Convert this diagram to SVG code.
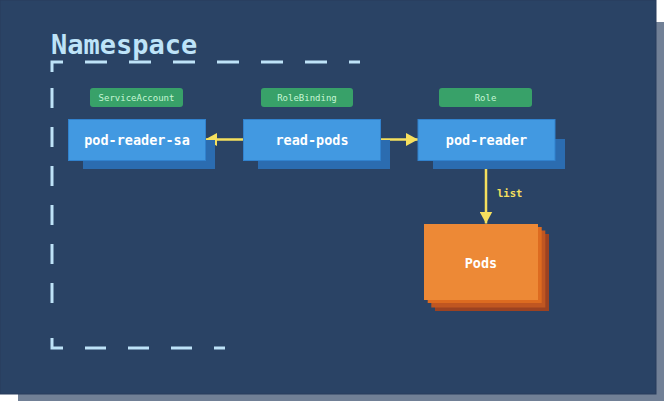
<svg xmlns="http://www.w3.org/2000/svg" width="664" height="401" viewBox="0 0 664 401">
  <defs>
    <style>
      .mono { font-family: "DejaVu Sans Mono", "Liberation Mono", monospace; }
      .title { font-size: 27px; font-weight: bold; fill: #bee3f8; }
      .dash { fill: none; stroke: #bee3f8; stroke-width: 3; stroke-linecap: butt; }
      .pill { fill: #38a169; }
      .pilltxt { font-size: 9px; fill: #c6f6d5; text-anchor: middle; }
      .box { fill: #4299e1; stroke: #3182ce; stroke-width: 1; }
      .shadow { fill: #2b6cb0; }
      .boxtxt { font-size: 13.5px; font-weight: bold; fill: #ffffff; text-anchor: middle; }
      .edge { fill: none; stroke: #f6e05e; stroke-width: 2.5; }
      .edgetxt { font-size: 10.5px; font-weight: bold; fill: #f6e05e; }
    </style>
    <marker id="arrow" viewBox="0 0 12 13" refX="12" refY="6.5" markerWidth="12" markerHeight="13" markerUnits="userSpaceOnUse" orient="auto">
      <path d="M0,0 L12,6.5 L0,13 Z" fill="#f6e05e"/>
    </marker>
  </defs>

  <!-- background -->
  <rect x="18" y="22" width="646" height="379" fill="#718096"/>
  <rect x="0" y="0" width="656" height="394" fill="#2a4365" stroke="#283d5c" stroke-width="1"/>

  <!-- namespace frame -->
  <g id="namespace">
    <text class="mono title" x="51" y="54">Namespace</text>
    <path class="dash" d="M52,72 V62 H63"/>
    <path class="dash" d="M85,62 H360" stroke-dasharray="22 22"/>
    <path class="dash" d="M52,88 V305" stroke-dasharray="20 19"/>
    <path class="dash" d="M52,338 V348 H63"/>
    <path class="dash" d="M85,348 H225" stroke-dasharray="21 22"/>
  </g>

  <!-- connectors -->
  <g id="connectors">
    <path class="edge" d="M243,139.5 H205" marker-end="url(#arrow)"/>
    <path class="edge" d="M380,139.5 H418" marker-end="url(#arrow)"/>
    <path class="edge" d="M486,160 V223.5" marker-end="url(#arrow)"/>
    <text class="mono edgetxt" x="497" y="197">list</text>
  </g>

  <!-- ServiceAccount -->
  <g id="pod-reader-sa">
    <rect class="pill" x="90" y="88" width="93" height="19" rx="3"/>
    <text class="mono pilltxt" x="136.5" y="101">ServiceAccount</text>
    <rect class="shadow" x="83" y="140" width="132" height="29"/>
    <rect class="box" x="68.5" y="119.5" width="137" height="41"/>
    <text class="mono boxtxt" x="137" y="144.5">pod-reader-sa</text>
  </g>

  <!-- RoleBinding -->
  <g id="read-pods">
    <rect class="pill" x="261" y="88" width="92" height="19" rx="3"/>
    <text class="mono pilltxt" x="307" y="101">RoleBinding</text>
    <rect class="shadow" x="258" y="140" width="132" height="29"/>
    <rect class="box" x="243.5" y="119.5" width="137" height="41"/>
    <text class="mono boxtxt" x="312" y="144.5">read-pods</text>
  </g>

  <!-- Role -->
  <g id="pod-reader">
    <rect class="pill" x="439" y="88" width="93" height="19" rx="3"/>
    <text class="mono pilltxt" x="485.5" y="101">Role</text>
    <rect class="shadow" x="433" y="139" width="132" height="30"/>
    <rect class="box" x="418" y="119.5" width="137" height="41"/>
    <text class="mono boxtxt" x="486.5" y="144.5">pod-reader</text>
  </g>

  <!-- Pods -->
  <g id="pods">
    <rect x="435" y="234" width="114" height="77" fill="#9c4221"/>
    <rect x="431.3" y="230.5" width="114" height="77" fill="#c05621"/>
    <rect x="427.7" y="227" width="114" height="76" fill="#dd6b20"/>
    <rect x="424" y="224" width="114" height="76" fill="#ed8936"/>
    <text class="mono boxtxt" x="481" y="267.5">Pods</text>
  </g>
</svg>
